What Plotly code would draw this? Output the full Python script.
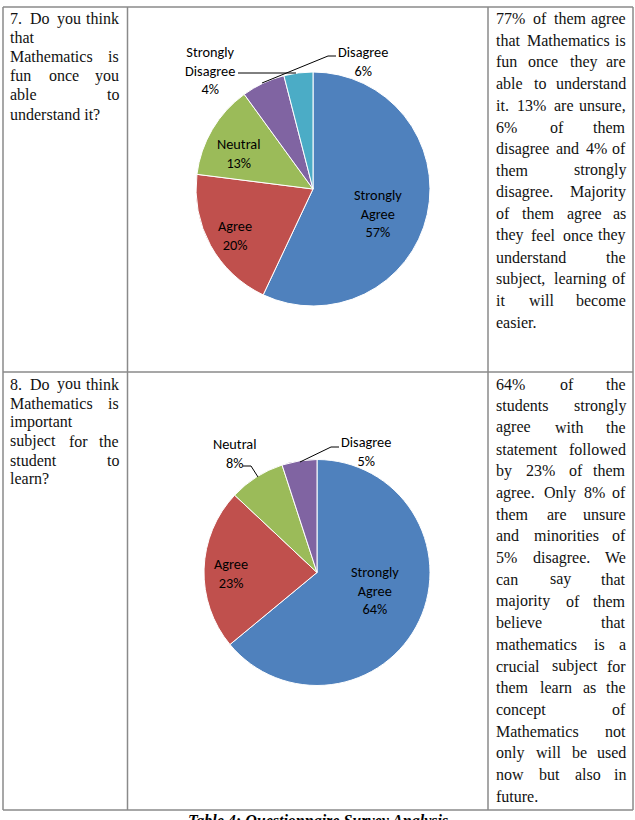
import plotly.graph_objects as go

# ---------------- data ----------------
q7_labels = ["Strongly Agree", "Agree", "Neutral", "Disagree", "Strongly Disagree"]
q7_values = [57, 20, 13, 6, 4]
q8_labels = ["Strongly Agree", "Agree", "Neutral", "Disagree"]
q8_values = [64, 23, 8, 5]
slice_colors = ["#4F81BD", "#C0504D", "#9BBB59", "#8064A2", "#4BACC6"]

q7_question = ["7. Do you think", "that", "Mathematics is", "fun once you", "able to", "understand it?"]
q8_question = ["8. Do you think", "Mathematics is", "important", "subject for the", "student to", "learn?"]
q7_analysis = ["77% of them agree", "that Mathematics is", "fun once they are", "able to understand",
               "it. 13% are unsure,", "6% of them", "disagree and 4% of", "them strongly",
               "disagree. Majority", "of them agree as", "they feel once they", "understand the",
               "subject, learning of", "it will become", "easier."]
q8_analysis = ["64% of the", "students strongly", "agree with the", "statement followed",
               "by 23% of them", "agree. Only 8% of", "them are unsure", "and minorities of",
               "5% disagree. We", "can say that", "majority of them", "believe that",
               "mathematics is a", "crucial subject for", "them learn as the", "concept of",
               "Mathematics not", "only will be used", "now but also in", "future."]
caption = "Table 4: Questionnaire Survey Analysis"

# ---------------- helpers ----------------
W, H = 635, 820
def X(p): return p / W
def Y(p): return 1 - p / H

SERIF = "Liberation Serif, Times New Roman, serif"
LABEL_FONT = "Carlito, Lato, sans-serif"
FS = 16

TW = {' ': 250, '!': 333, '%': 833, ',': 250, '.': 250, '?': 444, ':': 278,
      'A': 722, 'B': 667, 'C': 667, 'D': 722, 'E': 611, 'F': 556, 'G': 722, 'H': 722, 'I': 333,
      'J': 389, 'K': 722, 'L': 611, 'M': 889, 'N': 722, 'O': 722, 'P': 556, 'Q': 722, 'R': 667,
      'S': 556, 'T': 611, 'U': 722, 'V': 722, 'W': 944, 'X': 722, 'Y': 722, 'Z': 611,
      'a': 444, 'b': 500, 'c': 444, 'd': 500, 'e': 444, 'f': 333, 'g': 500, 'h': 500, 'i': 278,
      'j': 278, 'k': 500, 'l': 278, 'm': 778, 'n': 500, 'o': 500, 'p': 500, 'q': 500, 'r': 333,
      's': 389, 't': 278, 'u': 500, 'v': 500, 'w': 722, 'x': 500, 'y': 500, 'z': 444}
def tw(s):
    return sum(TW.get(c, 500) for c in s) / 1000 * FS

annotations = []
def word(x, y, t, anchor):
    annotations.append(dict(x=X(x), y=Y(y), xref="paper", yref="paper", text=t,
                            showarrow=False, xanchor=anchor, yanchor="middle", borderpad=0,
                            font=dict(family=SERIF, size=FS, color="#111111")))

def text_block(lines, xl, xr, y0, dy):
    for i, line in enumerate(lines):
        y = y0 + i * dy
        words = line.split()
        last = (i == len(lines) - 1)
        if last or len(words) == 1:
            word(xl, y, line, "left")
            continue
        widths = [tw(w) for w in words]
        gap = ((xr - xl) - sum(widths)) / (len(words) - 1)
        x = xl
        for j, w in enumerate(words):
            if j == len(words) - 1:
                word(xr, y, w, "right")
            else:
                word(x, y, w, "left")
            x += widths[j] + gap

text_block(q7_question, 9, 120, 18.5, 19.1)
text_block(q7_analysis, 495, 627, 18.5, 21.7)
text_block(q8_question, 9, 120, 384, 19.0)
text_block(q8_analysis, 495, 627, 384, 21.7)

# ---------------- pies ----------------
fig = go.Figure()
def add_pie(labels, values, cx, cy, r):
    fig.add_trace(go.Pie(labels=labels, values=values, sort=False, direction="clockwise",
                         rotation=0, textinfo="none", hoverinfo="label+percent",
                         marker=dict(colors=slice_colors[:len(values)], line=dict(color="white", width=1)),
                         domain=dict(x=[X(cx - r), X(cx + r)], y=[Y(cy + r), Y(cy - r)]),
                         showlegend=False))

add_pie(q7_labels, q7_values, 313, 189, 117)
add_pie(q8_labels, q8_values, 317, 572.5, 113)

def slice_label(labels, values, idx, cx, cy):
    txt = labels[idx].replace(" ", "<br>") + "<br>" + f"{values[idx]}%"
    annotations.append(dict(x=X(cx), y=Y(cy), xref="paper", yref="paper", text=txt, showarrow=False,
                            xanchor="center", yanchor="middle", align="center",
                            font=dict(family=LABEL_FONT, size=14.3, color="#000000")))

slice_label(q7_labels, q7_values, 0, 377.5, 213.5)
slice_label(q7_labels, q7_values, 1, 235.5, 235)
slice_label(q7_labels, q7_values, 2, 238, 154)
slice_label(q7_labels, q7_values, 3, 362.5, 61.5)
slice_label(q7_labels, q7_values, 4, 210, 70.5)

slice_label(q8_labels, q8_values, 0, 374.5, 590)
slice_label(q8_labels, q8_values, 1, 231, 573)
slice_label(q8_labels, q8_values, 2, 234, 453)
slice_label(q8_labels, q8_values, 3, 366, 451)

shapes = []
def seg(x0, y0, x1, y1, color="#000000", w=1):
    shapes.append(dict(type="line", xref="paper", yref="paper", x0=X(x0), y0=Y(y0), x1=X(x1), y1=Y(y1),
                       line=dict(color=color, width=w)))

# leader lines chart 7
seg(238, 73, 296, 73)
seg(336, 56, 328, 56)
seg(328, 56, 262, 83)
# leader lines chart 8
seg(243, 466, 251, 466)
seg(251, 466, 258, 477)
seg(339, 447, 331, 447)
seg(331, 447, 300, 462)

# table grid
GRID = "#8a8a8a"
seg(3, 7, 633, 7, GRID, 1.5)
seg(3, 372, 633, 372, GRID, 1.5)
seg(3, 810, 633, 810, GRID, 1.5)
seg(3, 7, 3, 810, GRID, 1.5)
seg(633, 7, 633, 810, GRID, 1.5)
seg(127.5, 7, 127.5, 810, GRID, 1.5)
seg(488, 7, 488, 810, GRID, 1.5)

annotations.append(dict(x=X(318), y=Y(821), xref="paper", yref="paper",
                        text="<b><i><u>" + caption + "</u></i></b>", showarrow=False,
                        xanchor="center", yanchor="middle",
                        font=dict(family=SERIF, size=16, color="#000000")))

fig.update_layout(width=W, height=H, margin=dict(l=0, r=0, t=0, b=0),
                  paper_bgcolor="white", plot_bgcolor="white",
                  annotations=annotations, shapes=shapes)
fig.write_html("out.html")
